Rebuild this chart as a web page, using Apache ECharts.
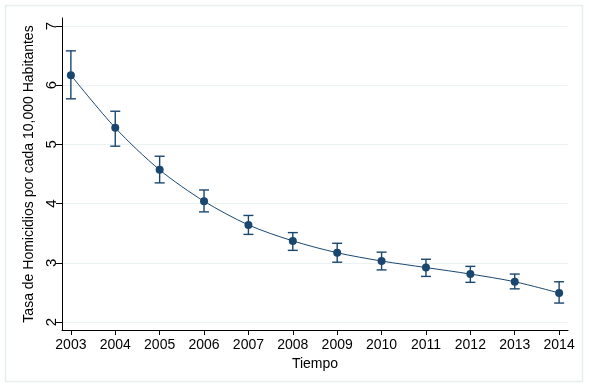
<!DOCTYPE html>
<html>
<head>
<meta charset="utf-8">
<script src="https://cdn.jsdelivr.net/npm/echarts@6/dist/echarts.min.js"></script>
<style>
html, body { margin: 0; padding: 0; background: #fff; }
#chart { width: 589px; height: 387px; }
</style>
</head>
<body>
<div id="chart"></div>
<script>
// datos
var years = [2003, 2004, 2005, 2006, 2007, 2008, 2009, 2010, 2011, 2012, 2013, 2014];
var tasa = [6.17, 5.28, 4.57, 4.04, 3.64, 3.37, 3.17, 3.03, 2.92, 2.81, 2.68, 2.49];
var tasaLow = [5.77, 4.97, 4.35, 3.86, 3.48, 3.21, 3.01, 2.88, 2.77, 2.67, 2.56, 2.32];
var tasaHigh = [6.58, 5.56, 4.80, 4.23, 3.80, 3.51, 3.33, 3.18, 3.06, 2.94, 2.81, 2.68];
var yTicks = [2, 3, 4, 5, 6, 7];

var navy = '#1a476f';

function showHomicidiosChart() {
	var chart = echarts.init(document.getElementById('chart'));

	var lineData = [];
	var errData = [];
	for (var i = 0; i < years.length; i++) {
		lineData.push([years[i], tasa[i]]);
		errData.push([years[i], tasaLow[i], tasaHigh[i]]);
	}

	var option = {
		backgroundColor: '#fff',
		animation: false,
		textStyle: { fontFamily: 'Liberation Sans, Arial, sans-serif' },
		graphic: [{
			type: 'rect',
			shape: { x: 5.5, y: 5.5, width: 577, height: 376 },
			style: { fill: 'none', stroke: '#e6eeee', lineWidth: 1.5 },
			silent: true
		}],
		grid: { left: 62, right: 21, top: 18, bottom: 57 },
		xAxis: {
			type: 'value',
			min: 2002.8,
			max: 2014.2,
			name: 'Tiempo',
			nameLocation: 'middle',
			nameGap: 13,
			nameTextStyle: { color: '#000', fontSize: 14 },
			axisLine: { lineStyle: { color: '#000', width: 1 } },
			axisTick: { show: true, length: 5, customValues: years, lineStyle: { color: '#000' } },
			axisLabel: {
				customValues: years, color: '#000', fontSize: 14, margin: 8,
				formatter: function(v) { return String(v); }
			},
			splitLine: { show: false }
		},
		yAxis: {
			type: 'value',
			min: 1.865,
			max: 7.135,
			name: 'Tasa de Homicidios por cada 10,000 Habitantes',
			nameLocation: 'middle',
			nameRotate: 90,
			nameGap: 24,
			nameTextStyle: { color: '#000', fontSize: 14 },
			axisLine: { show: true, lineStyle: { color: '#000', width: 1 } },
			axisTick: { show: true, length: 6, customValues: yTicks, lineStyle: { color: '#000' } },
			axisLabel: { customValues: yTicks, rotate: 90, color: '#000', fontSize: 15, margin: 3 },
			splitLine: { show: true, customValues: yTicks, lineStyle: { color: '#eaf2f3', width: 1 } }
		},
		series: [
			{
				type: 'custom',
				name: 'ic',
				data: errData,
				z: 3,
				renderItem: function(params, api) {
					var x = api.value(0);
					var lo = api.coord([x, api.value(1)]);
					var hi = api.coord([x, api.value(2)]);
					var cap = 5;
					var st = { stroke: navy, lineWidth: 1.4, fill: 'none' };
					return {
						type: 'group',
						children: [
							{ type: 'line', shape: { x1: lo[0], y1: lo[1], x2: hi[0], y2: hi[1] }, style: st },
							{ type: 'line', shape: { x1: lo[0] - cap, y1: lo[1], x2: lo[0] + cap, y2: lo[1] }, style: st },
							{ type: 'line', shape: { x1: hi[0] - cap, y1: hi[1], x2: hi[0] + cap, y2: hi[1] }, style: st }
						]
					};
				}
			},
			{
				type: 'line',
				name: 'tasa',
				data: lineData,
				smooth: 0.3,
				symbol: 'circle',
				symbolSize: 8,
				z: 4,
				lineStyle: { color: navy, width: 1 },
				itemStyle: { color: navy }
			}
		]
	};

	chart.setOption(option);
}

showHomicidiosChart();
</script>
</body>
</html>
